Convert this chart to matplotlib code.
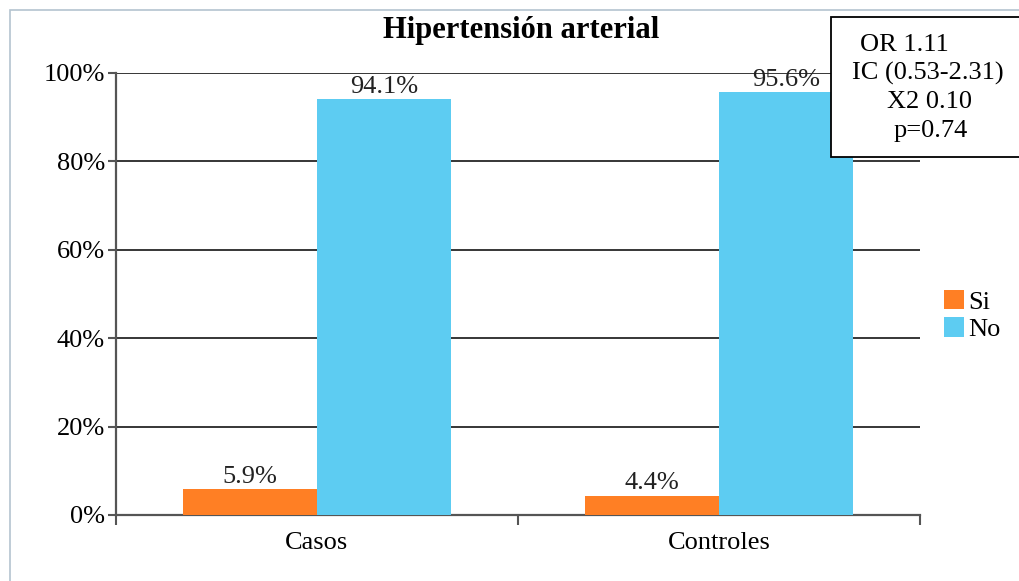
import numpy as np
import matplotlib
matplotlib.use("Agg")
import matplotlib.pyplot as plt
from matplotlib.patches import Rectangle

plt.rcParams['font.family'] = ['Liberation Serif', 'DejaVu Serif']

# data
categories = ['Casos', 'Controles']
series = ['Si', 'No']
si_vals = [5.9, 4.4]
no_vals = [94.1, 95.6]
colors = ['#FF7F24', '#5DCCF2']
stats_lines = ["OR 1.11", "IC (0.53-2.31)", "X2 0.10", "p=0.74"]

FS = 19

fig = plt.figure(figsize=(10.2, 5.81), dpi=100)
ax = fig.add_axes([0.1137, 0.1136, 0.7883, 0.7608])

# light frame round the chart
fig.patches.append(Rectangle((10 / 1020, -0.01), 1.1, 1 - 10 / 581 + 0.01,
                             transform=fig.transFigure, fill=False,
                             edgecolor='#b4c4d0', linewidth=1.2))

x = np.arange(len(categories))
w = 1 / 3
b1 = ax.bar(x - w / 2, si_vals, w, color=colors[0], label=series[0], zorder=3)
b2 = ax.bar(x + w / 2, no_vals, w, color=colors[1], label=series[1], zorder=3)

for bars, vals in [(b1, si_vals), (b2, no_vals)]:
    for r, v in zip(bars, vals):
        ax.text(r.get_x() + r.get_width() / 2, v + 0.3, f"{v:.1f}%",
                ha='center', va='bottom', fontsize=FS, color='#222222', zorder=4)

ax.set_xlim(-0.5, 1.5)
ax.set_ylim(0, 100)
ax.set_yticks(np.arange(0, 101, 20))
ax.set_yticklabels([f"{t}%" for t in range(0, 101, 20)], fontsize=FS)
ax.yaxis.grid(True, color='black', linewidth=1.1, zorder=0)
ax.set_axisbelow(True)

# category ticks at boundaries, labels at centres
ax.set_xticks([-0.5, 0.5, 1.5])
ax.set_xticklabels([])
ax.set_xticks(x, minor=True)
ax.set_xticklabels(categories, minor=True, fontsize=FS)
ax.tick_params(axis='x', which='minor', length=0, pad=12)
ax.tick_params(axis='x', which='major', direction='out', length=7, width=1.5, color='#555555')
ax.tick_params(axis='y', direction='out', length=6, width=1.5, color='#555555', pad=2)

for s in ['top', 'right']:
    ax.spines[s].set_visible(False)
for s in ['left', 'bottom']:
    ax.spines[s].set_color('#555555')
    ax.spines[s].set_linewidth(1.6)

fig.text(0.511, 0.948, "Hipertensión arterial", ha='center', va='center',
         fontsize=22, fontweight='bold')

leg = fig.legend(handles=[b1, b2], loc='center left', bbox_to_anchor=(0.913, 0.457),
                 frameon=False, fontsize=FS, handlelength=0.75, handleheight=0.75,
                 handletextpad=0.15, labelspacing=0.15, borderpad=0)

# stats box
fig.patches.append(Rectangle((831 / 1020, 1 - 157 / 581), 0.3, 140 / 581,
                             transform=fig.transFigure, facecolor='white',
                             edgecolor='black', linewidth=1.3, zorder=5))
line_x = [904, 928, 930, 931]
line_y = [45, 73, 102, 131]
for s, lx, ly in zip(stats_lines, line_x, line_y):
    fig.text(lx / 1020, 1 - ly / 581, s, ha='center', va='center',
             fontsize=FS, zorder=6)

fig.savefig('out.png', dpi=100)
